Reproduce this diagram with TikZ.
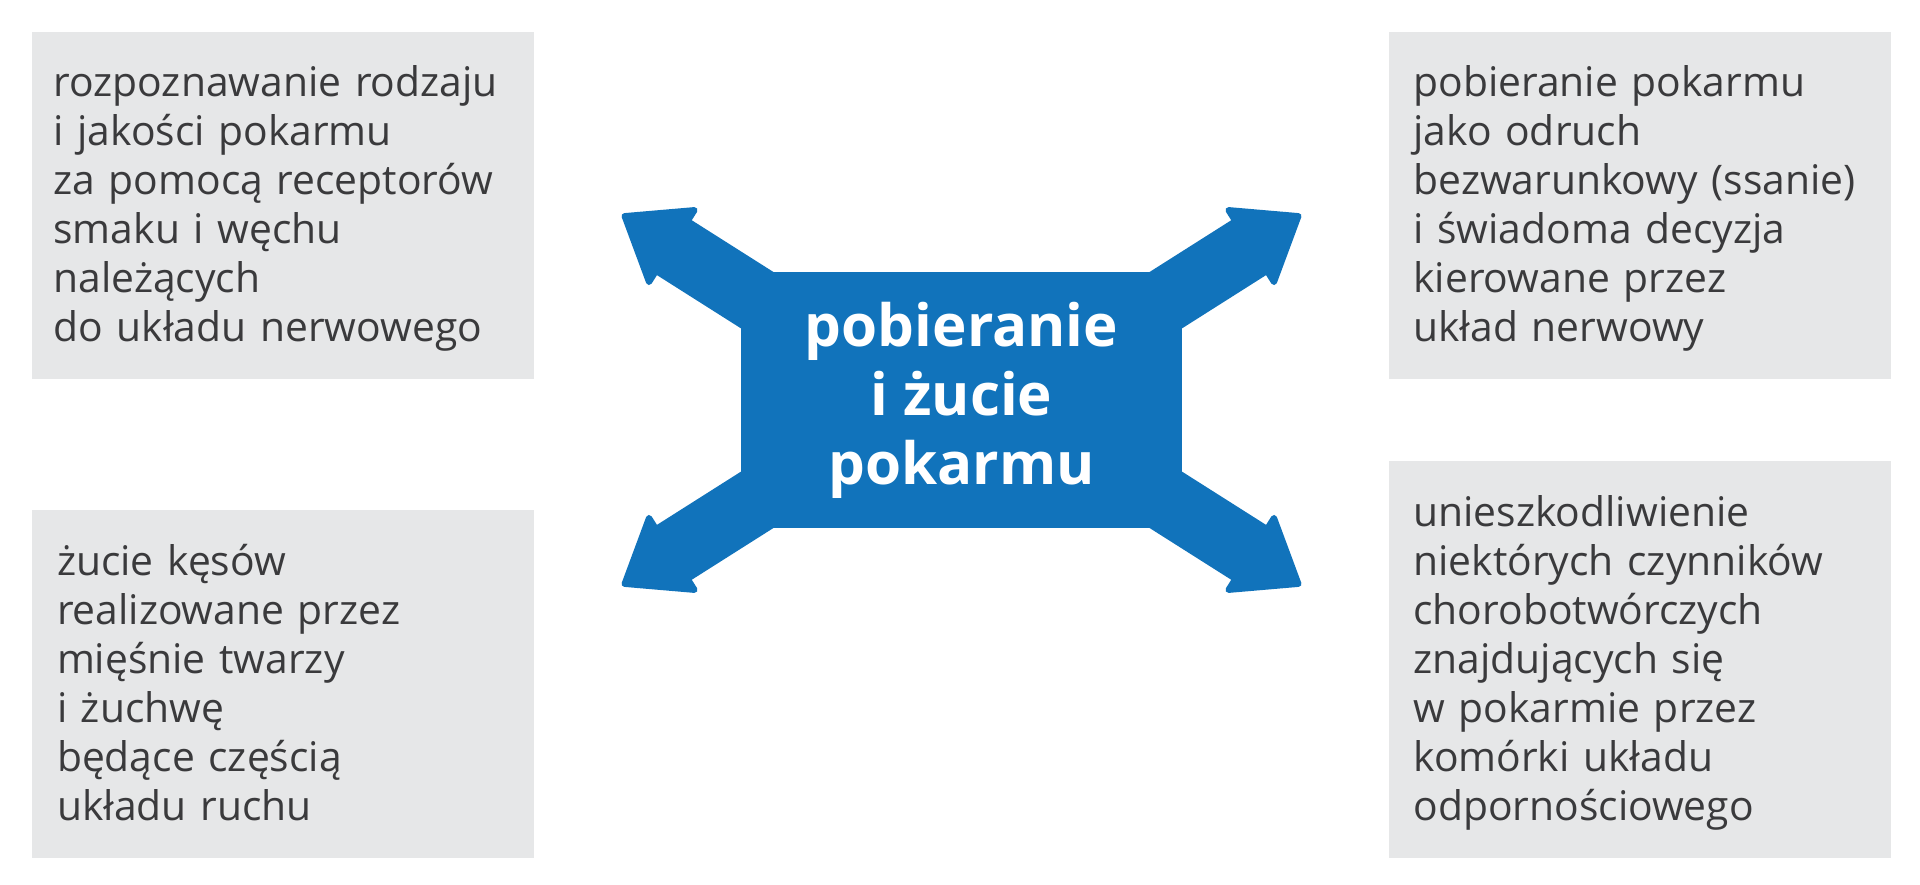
\documentclass[tikz,border=0pt]{standalone}
\usepackage{fontspec}
\setmainfont{Open Sans}
\usetikzlibrary{arrows.meta,backgrounds}

\definecolor{coreblue}{RGB}{17,115,187}
\definecolor{boxgray}{RGB}{230,231,232}
\definecolor{inktext}{RGB}{58,58,60}

\newcommand{\topstrut}{\rule{0pt}{37pt}}
\newcommand{\botstrut}{\rule[-10pt]{0pt}{10pt}}

\tikzset{
  infobox/.style={fill=boxgray, text=inktext, minimum width=502pt, text width=454pt,
    inner xsep=0pt, inner ysep=0pt, align=left, font=\fontsize{40.8}{49}\selectfont,
    execute at begin node=\topstrut, execute at end node=\botstrut},
  core/.style={fill=coreblue, text=white, minimum width=441pt, minimum height=256pt,
    inner sep=0pt, align=center, font=\fontsize{58.3}{69}\selectfont\bfseries},
  spoke/.style={coreblue, line width=65pt,
    -{Triangle[width=96pt,length=64pt,line width=6pt,round]}}
}

\begin{document}
\begin{tikzpicture}[x=1pt,y=-1pt]
	\useasboundingbox (0,0) rectangle (1920,885);

	\node[infobox, minimum height=347pt, text width=459pt] (senses) at (283,205.5)
	  {rozpoznawanie rodzaju\\i jakości pokarmu\\za pomocą receptorów\\smaku i węchu\\należących\\do układu nerwowego};
	\node[infobox, minimum height=348pt, text width=452pt] (chewing) at (283,684)
	  {żucie kęsów\\realizowane przez\\mięśnie twarzy\\i żuchwę\\będące częścią\\układu ruchu};
	\node[infobox, minimum height=347pt, text width=452pt] (reflex) at (1639.5,205.5)
	  {pobieranie pokarmu\\jako odruch\\bezwarunkowy (ssanie)\\i świadoma decyzja\\kierowane przez\\układ nerwowy};
	\node[infobox, minimum height=397pt, text width=452pt] (immune) at (1639.5,659.5)
	  {unieszkodliwienie\\niektórych czynników\\chorobotwórczych\\znajdujących się\\w pokarmie przez\\komórki układu\\odpornościowego};

	\node[core] (core) at (961.5,400) {pobieranie\\i żucie\\pokarmu};

	% four spokes under the centre block
	\begin{scope}[on background layer]
	  \foreach \sx/\sy/\nm in {-1/-1/nw,1/-1/ne,-1/1/sw,1/1/se}{
	    \coordinate (tip-\nm) at ([shift={(\sx*339.5,\sy*185.5)}]core.center);
	    \draw[spoke] ([shift={(\sx*111.5,\sy*41)}]core.center) -- (tip-\nm);
	  }
	\end{scope}
\end{tikzpicture}
\end{document}
